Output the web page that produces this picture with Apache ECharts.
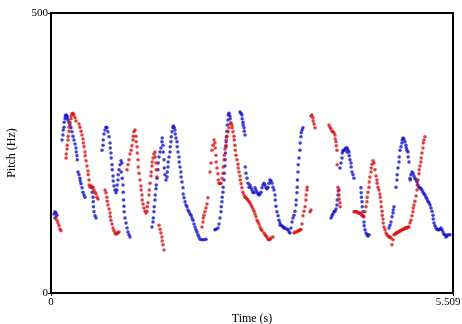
<!DOCTYPE html>
<html>
<head>
<meta charset="utf-8">
<script src="https://cdn.jsdelivr.net/npm/echarts@6/dist/echarts.min.js"></script>
<style>
  html, body { margin: 0; padding: 0; background: #fff; }
  #echart { width: 462px; height: 324px; }
</style>
</head>
<body>
<div id="echart"></div>
<script>
// pitch track, [time (s), pitch (Hz)]
var bluePoints = [
  [0.041,141],[0.055,145],[0.069,143],[0.082,139],[0.055,134],
  [0.151,273],[0.164,282],[0.167,291],[0.178,296],[0.181,305],[0.192,311],[0.195,316],[0.206,318],[0.219,316],[0.222,313],
  [0.233,309],[0.247,305],[0.260,300],[0.274,295],[0.288,288],[0.301,280],[0.315,273],[0.329,266],[0.343,259],[0.346,252],
  [0.356,245],[0.360,238],[0.370,216],[0.384,211],[0.397,205],[0.400,200],[0.411,195],[0.425,188],[0.439,180],[0.452,175],[0.466,171],
  [0.562,189],[0.565,180],[0.576,171],[0.579,163],[0.582,154],[0.589,145],[0.603,138],[0.617,134],
  [0.699,255],[0.713,264],[0.716,273],[0.726,284],[0.740,291],[0.754,296],[0.767,295],[0.781,288],[0.795,279],[0.809,268],
  [0.812,259],[0.822,250],[0.825,241],[0.836,229],[0.839,220],[0.850,209],[0.853,200],[0.863,191],[0.877,184],[0.891,179],
  [0.904,184],[0.907,193],[0.918,202],[0.921,211],[0.932,220],[0.946,229],[0.959,236],[0.973,232],[0.962,216],[0.976,205],
  [0.987,193],[0.990,180],[0.993,166],[1.000,155],[1.003,145],[1.014,134],[1.028,125],[1.042,116],[1.055,109],[1.069,104],[1.083,100],
  [1.384,118],[1.398,127],[1.401,134],[1.411,145],[1.414,154],[1.425,166],[1.428,175],[1.439,186],[1.442,193],[1.453,205],
  [1.466,220],[1.469,232],[1.480,243],[1.494,252],[1.507,259],[1.521,270],[1.524,277],[1.535,264],[1.538,252],[1.549,238],
  [1.552,223],[1.562,211],[1.576,202],[1.590,207],[1.593,216],[1.603,225],[1.606,234],[1.617,243],[1.631,252],[1.634,261],
  [1.644,270],[1.647,279],[1.658,288],[1.672,295],[1.675,298],[1.686,296],[1.699,291],[1.702,284],[1.713,277],[1.727,270],
  [1.730,261],[1.740,252],[1.754,243],[1.757,234],[1.768,225],[1.781,216],[1.784,207],[1.795,198],[1.809,188],[1.812,177],
  [1.823,170],[1.836,163],[1.850,157],[1.864,154],[1.877,148],[1.891,145],[1.905,141],[1.919,139],[1.932,134],[1.946,130],
  [1.960,123],[1.973,118],[1.987,113],[2.001,109],[2.014,104],[2.028,100],[2.042,96],[2.069,95],[2.097,95],[2.124,96],
  [2.247,113],[2.261,114],[2.289,116],[2.302,123],[2.316,134],[2.330,145],[2.333,154],[2.343,163],[2.346,171],[2.357,180],
  [2.360,189],[2.371,202],[2.374,214],[2.384,227],[2.387,238],[2.390,250],[2.398,261],[2.401,270],[2.404,279],[2.412,289],
  [2.415,300],[2.426,309],[2.429,318],[2.439,321],[2.453,316],[2.456,311],
  [2.590,323],[2.604,321],[2.617,318],[2.620,311],[2.631,305],[2.634,300],[2.645,295],[2.648,289],[2.659,282],
  [2.662,225],[2.672,214],[2.686,205],[2.700,196],[2.713,189],[2.727,193],[2.741,188],[2.754,184],[2.768,180],[2.782,179],
  [2.796,188],[2.809,184],[2.823,180],[2.837,177],[2.850,175],[2.864,177],[2.878,180],[2.891,188],[2.905,193],[2.919,196],
  [2.933,193],[2.946,188],[2.960,186],[2.974,189],[2.987,196],[3.001,202],[3.015,200],[3.029,196],[3.042,189],[3.056,184],
  [3.070,175],[3.073,166],[3.083,155],[3.097,145],[3.111,138],[3.124,130],[3.138,125],[3.141,121],[3.166,120],[3.179,118],
  [3.193,116],[3.207,116],[3.234,114],[3.248,113],[3.262,109],[3.275,107],[3.289,116],[3.303,127],[3.316,134],[3.330,139],
  [3.344,146],[3.357,157],[3.360,166],[3.371,179],[3.374,189],[3.377,202],[3.385,216],[3.388,229],[3.398,241],[3.412,255],
  [3.415,268],[3.426,279],[3.429,286],[3.440,291],[3.453,295],
  [3.837,134],[3.851,138],[3.864,141],[3.878,145],[3.892,146],[3.906,150],[3.919,157],[3.922,166],[3.933,175],[3.947,184],
  [3.960,223],[3.974,232],[3.988,241],[3.991,250],[4.002,254],[4.015,255],[4.029,257],[4.043,259],[4.056,252],[4.059,259],
  [4.070,255],[4.084,252],[4.087,245],[4.097,238],[4.111,232],[4.114,225],[4.125,216],[4.139,211],[4.152,205],
  [4.248,188],[4.251,179],[4.254,171],[4.262,163],[4.265,154],[4.276,145],[4.279,136],[4.289,127],[4.292,120],[4.303,113],
  [4.317,107],[4.330,104],[4.344,102],[4.358,104],
  [4.632,116],[4.646,121],[4.659,127],[4.673,136],[4.687,143],[4.690,148],[4.700,154],[4.728,189],[4.741,202],[4.744,211],
  [4.755,223],[4.769,234],[4.772,243],[4.783,255],[4.796,261],[4.810,268],[4.813,273],[4.824,277],[4.838,275],[4.851,270],
  [4.865,264],[4.868,259],[4.879,255],[4.892,252],[4.895,243],[4.906,234],[4.920,205],[4.923,202],[4.933,211],[4.947,216],
  [4.961,214],[4.974,209],[4.988,205],[5.002,202],[5.016,198],[5.029,193],[5.043,189],[5.057,188],[5.070,186],[5.084,184],
  [5.098,180],[5.112,177],[5.125,175],[5.139,171],[5.153,168],[5.166,164],[5.180,161],[5.194,157],[5.207,152],[5.221,146],
  [5.235,139],[5.238,132],[5.249,125],[5.262,120],[5.276,116],[5.290,114],[5.303,113],[5.317,113],[5.331,114],[5.344,116],
  [5.358,113],[5.372,109],[5.386,105],[5.399,104],[5.413,100],[5.427,102],[5.440,104],[5.468,104]
];

var redPoints = [
  [0.069,136],[0.082,130],[0.096,125],[0.110,120],[0.123,114],[0.137,111],
  [0.206,241],[0.209,248],[0.219,257],[0.222,264],[0.233,273],[0.236,280],[0.247,289],[0.250,296],[0.260,304],[0.274,311],
  [0.277,316],[0.288,320],[0.301,321],[0.315,318],[0.329,313],[0.343,307],[0.384,302],[0.397,296],[0.411,289],[0.425,282],
  [0.439,275],[0.442,268],[0.452,261],[0.466,252],[0.469,245],[0.480,236],[0.493,227],[0.507,218],[0.510,211],[0.521,202],
  [0.524,193],[0.534,189],[0.548,191],[0.562,188],[0.576,189],[0.589,184],[0.603,180],[0.617,177],[0.630,171],[0.644,168],
  [0.740,184],[0.754,179],[0.767,171],[0.770,164],[0.781,157],[0.795,150],[0.809,143],[0.812,136],[0.822,130],[0.836,123],
  [0.850,116],[0.863,111],[0.877,107],[0.891,105],[0.904,107],[0.918,107],[0.932,109],
  [1.042,220],[1.055,229],[1.069,238],[1.083,248],[1.096,255],[1.110,263],[1.124,273],[1.127,280],[1.137,288],[1.151,291],
  [1.165,280],[1.168,270],[1.179,261],[1.182,250],[1.192,238],[1.195,225],[1.206,214],[1.220,202],[1.233,191],[1.236,184],
  [1.247,175],[1.250,166],[1.261,159],[1.274,152],[1.288,146],[1.302,143],[1.316,146],[1.319,154],[1.329,161],[1.343,175],
  [1.346,184],[1.357,196],[1.370,209],[1.373,216],[1.384,227],[1.387,234],[1.398,241],[1.411,248],[1.425,252],[1.428,243],
  [1.439,232],[1.442,220],[1.453,207],[1.480,121],[1.494,114],[1.507,107],[1.521,100],[1.524,93],[1.535,86],[1.549,77],
  [2.069,118],[2.083,127],[2.086,134],[2.097,139],[2.110,145],[2.124,152],[2.138,159],[2.151,170],[2.179,216],[2.193,232],
  [2.206,255],[2.220,264],[2.234,273],[2.247,268],[2.250,259],[2.261,246],[2.264,234],[2.275,223],[2.289,213],[2.292,202],
  [2.302,196],[2.316,195],[2.330,196],[2.343,205],[2.357,214],[2.360,225],[2.371,238],[2.374,246],[2.384,257],[2.398,264],
  [2.401,273],[2.412,280],[2.426,288],[2.439,295],[2.453,302],[2.467,304],[2.480,300],[2.483,295],[2.494,288],[2.508,280],
  [2.511,273],[2.522,264],[2.525,255],[2.535,246],[2.549,238],[2.563,230],[2.566,223],[2.576,216],[2.590,209],[2.593,202],
  [2.604,195],[2.617,188],[2.631,180],[2.645,175],[2.659,171],[2.672,170],[2.686,168],[2.700,166],[2.713,163],[2.727,161],
  [2.741,157],[2.754,154],[2.768,150],[2.782,146],[2.796,141],[2.809,136],[2.823,130],[2.837,127],[2.850,123],[2.864,118],
  [2.878,114],[2.891,111],[2.919,107],[2.933,104],[2.946,102],[2.960,100],[2.974,96],[2.987,95],[3.001,96],[3.015,98],[3.042,100],
  [3.330,107],[3.344,109],[3.371,109],[3.385,111],[3.398,111],[3.412,113],[3.426,113],[3.440,123],[3.453,138],[3.467,146],
  [3.481,154],[3.494,166],[3.497,175],[3.508,184],[3.511,189],[3.549,145],[3.563,148],
  [3.563,316],[3.577,318],[3.590,313],[3.593,307],[3.604,302],[3.618,295],
  [3.810,300],[3.823,296],[3.837,293],[3.851,289],[3.864,288],[3.878,286],[3.892,282],[3.895,275],[3.906,270],[3.909,263],
  [3.919,255],[3.922,229],[3.933,189],[3.936,182],[3.947,175],[3.950,168],[3.960,161],[3.963,154],
  [4.152,145],[4.166,145],[4.180,145],[4.193,145],[4.207,143],[4.221,143],[4.234,143],[4.248,141],[4.262,139],[4.276,138],
  [4.289,136],[4.303,145],[4.317,154],[4.330,163],[4.333,171],[4.344,180],[4.358,189],[4.361,198],[4.371,207],[4.385,216],
  [4.388,223],[4.399,230],[4.413,236],[4.426,232],[4.440,220],[4.454,209],[4.467,202],[4.470,196],[4.481,189],[4.495,184],
  [4.508,177],[4.511,171],[4.522,163],[4.525,154],[4.536,146],[4.539,139],[4.550,132],[4.553,125],[4.563,118],[4.577,113],
  [4.591,107],[4.604,104],[4.618,102],[4.632,100],[4.646,100],[4.659,98],[4.673,86],[4.687,95],[4.700,104],[4.714,105],
  [4.728,107],[4.741,107],[4.755,109],[4.769,109],[4.783,111],[4.796,111],[4.810,113],[4.824,114],[4.838,114],[4.851,116],
  [4.865,116],[4.879,116],[4.892,118],[4.906,118],[4.920,125],[4.933,130],[4.947,138],[4.961,145],[4.964,152],[4.974,157],
  [4.988,164],[5.002,173],[5.016,184],[5.019,193],[5.029,202],[5.043,213],[5.046,220],[5.057,227],[5.070,234],[5.073,241],
  [5.084,250],[5.098,259],[5.101,268],[5.112,273],[5.125,279]
];

var timeRange = [0, 5.509];
var pitchRange = [0, 500];

var myChart = echarts.init(document.getElementById('echart'));

var option = {
    backgroundColor: '#fff',
    animation: false,
    textStyle: { fontFamily: 'Liberation Serif' },
    grid: {
        left: 51, right: 9, top: 13, bottom: 31,
        outerBoundsMode: 'none',
        show: true,
        borderColor: '#000',
        borderWidth: 2
    },
    xAxis: {
        type: 'value',
        min: timeRange[0],
        max: timeRange[1],
        interval: timeRange[1],
        name: 'Time (s)',
        nameLocation: 'middle',
        nameGap: 15,
        nameTextStyle: { color: '#000', fontSize: 12, fontFamily: 'Liberation Serif' },
        axisLine: { lineStyle: { color: '#000', width: 2 } },
        axisTick: { show: true, length: 3, lineStyle: { color: '#000' } },
        axisLabel: {
            color: '#000', fontSize: 11, margin: 4,
            fontFamily: 'Liberation Serif',
            formatter: function (v) { return v === 0 ? '0' : '{m|5.509}'; },
            rich: {
                m: { color: '#000', fontSize: 11, fontFamily: 'Liberation Serif', padding: [0, 10, 0, 0] }
            }
        },
        splitLine: { show: false }
    },
    yAxis: {
        type: 'value',
        min: pitchRange[0],
        max: pitchRange[1],
        interval: pitchRange[1],
        name: 'Pitch (Hz)',
        nameLocation: 'middle',
        nameGap: 33,
        nameTextStyle: { color: '#000', fontSize: 12, fontFamily: 'Liberation Serif' },
        axisLine: { show: true, lineStyle: { color: '#000', width: 2 } },
        axisTick: { show: true, length: 3, lineStyle: { color: '#000' } },
        axisLabel: { color: '#000', fontSize: 11, margin: 3, fontFamily: 'Liberation Serif' },
        splitLine: { show: false }
    },
    series: [
        {
            name: 'blue',
            type: 'scatter',
            data: bluePoints,
            symbolSize: 3.5,
            itemStyle: { color: '#1010c8' }
        },
        {
            name: 'red',
            type: 'scatter',
            data: redPoints,
            symbolSize: 3.5,
            itemStyle: { color: '#d81010' }
        }
    ]
};
myChart.setOption(option);
</script>
</body>
</html>
